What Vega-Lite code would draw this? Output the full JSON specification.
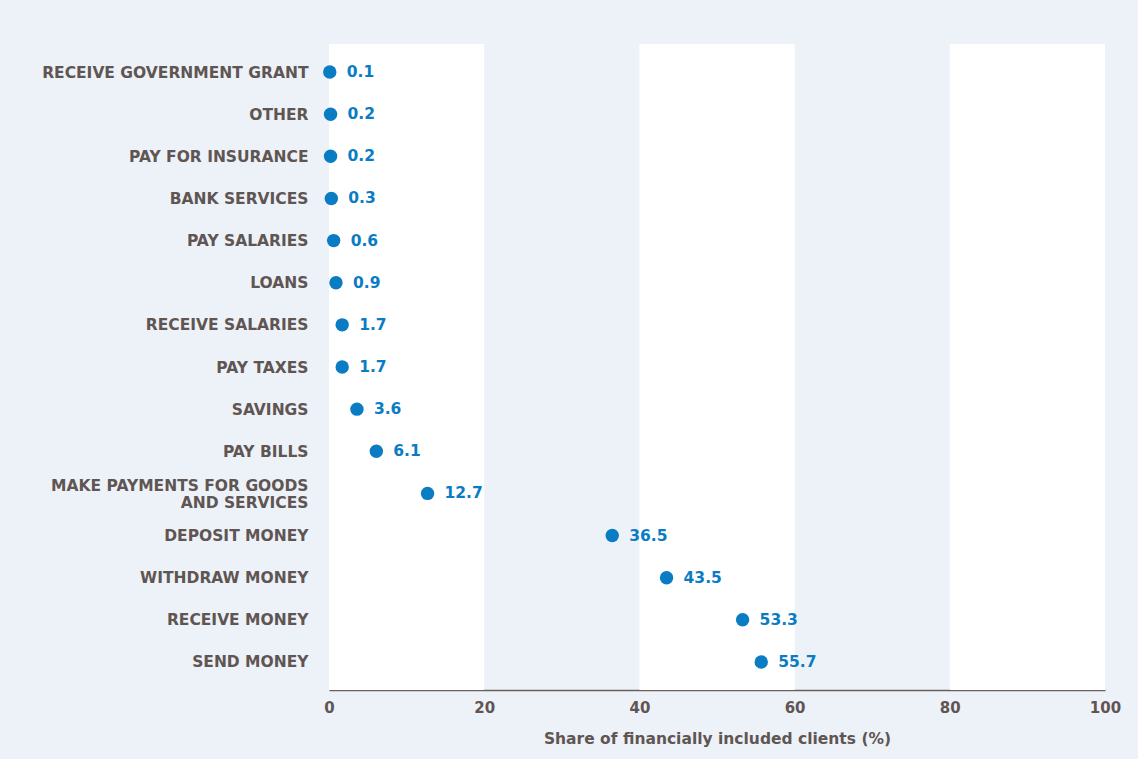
{
  "$schema": "https://vega.github.io/schema/vega-lite/v6.json",
  "width": 776,
  "height": 646,
  "autosize": {"type": "none"},
  "padding": {"left": 329, "top": 44, "right": 33, "bottom": 69},
  "background": "#edf2f9",
  "config": {
    "view": {"stroke": null, "fill": "#edf2f9"},
    "font": "DejaVu Sans"
  },
  "datasets": {
    "bands": [
      {"start": 0, "end": 20},
      {"start": 40, "end": 60},
      {"start": 80, "end": 100}
    ],
    "uses": [
      {"use": "RECEIVE GOVERNMENT GRANT", "share": 0.1},
      {"use": "OTHER", "share": 0.2},
      {"use": "PAY FOR INSURANCE", "share": 0.2},
      {"use": "BANK SERVICES", "share": 0.3},
      {"use": "PAY SALARIES", "share": 0.6},
      {"use": "LOANS", "share": 0.9},
      {"use": "RECEIVE SALARIES", "share": 1.7},
      {"use": "PAY TAXES", "share": 1.7},
      {"use": "SAVINGS", "share": 3.6},
      {"use": "PAY BILLS", "share": 6.1},
      {"use": "MAKE PAYMENTS FOR GOODS AND SERVICES", "share": 12.7},
      {"use": "DEPOSIT MONEY", "share": 36.5},
      {"use": "WITHDRAW MONEY", "share": 43.5},
      {"use": "RECEIVE MONEY", "share": 53.3},
      {"use": "SEND MONEY", "share": 55.7}
    ]
  },
  "layer": [
    {
      "data": {"name": "bands"},
      "mark": {"type": "rect", "color": "#ffffff"},
      "encoding": {
        "x": {"field": "start", "type": "quantitative", "scale": {"domain": [0, 100], "nice": false}},
        "x2": {"field": "end"}
      }
    },
    {
      "data": {"name": "uses"},
      "mark": {"type": "circle", "size": 180, "opacity": 1, "color": "#0a7cc4"},
      "encoding": {
        "x": {
          "field": "share", "type": "quantitative",
          "scale": {"domain": [0, 100], "nice": false},
          "axis": {
            "values": [0, 20, 40, 60, 80, 100],
            "grid": false, "ticks": false, "labelFlush": false,
            "domainColor": "#6b5f5d", "domainWidth": 1.5,
            "labelFont": "DejaVu Sans", "labelFontWeight": "bold", "labelFontSize": 15, "labelColor": "#5f5553",
            "labelPadding": 10,
            "title": "Share of financially included clients (%)",
            "titleFont": "DejaVu Sans", "titleFontWeight": "bold", "titleFontSize": 15.5, "titleColor": "#5f5553",
            "titlePadding": 16
          }
        },
        "y": {
          "field": "use", "type": "nominal", "sort": null,
          "scale": {"type": "point", "padding": 0.666},
          "axis": {
            "title": null, "domain": false, "ticks": false, "grid": false,
            "labelFont": "DejaVu Sans", "labelFontWeight": "bold", "labelFontSize": 15.5, "labelColor": "#5f5553",
            "labelPadding": 21, "labelLimit": 400, "labelLineHeight": 17,
            "labelOffset": {"condition": {"test": "datum.value == 'MAKE PAYMENTS FOR GOODS AND SERVICES'", "value": -8}, "value": 0},
            "labelExpr": "datum.value == 'MAKE PAYMENTS FOR GOODS AND SERVICES' ? ['MAKE PAYMENTS FOR GOODS', 'AND SERVICES'] : datum.label"
          }
        }
      }
    },
    {
      "data": {"name": "uses"},
      "mark": {"type": "text", "align": "left", "baseline": "middle", "dx": 17, "fontSize": 15.5, "fontWeight": "bold", "font": "DejaVu Sans", "color": "#0a7cc4"},
      "encoding": {
        "x": {"field": "share", "type": "quantitative"},
        "y": {"field": "use", "type": "nominal", "sort": null},
        "text": {"field": "share", "type": "quantitative", "format": ".1f"}
      }
    }
  ]
}
